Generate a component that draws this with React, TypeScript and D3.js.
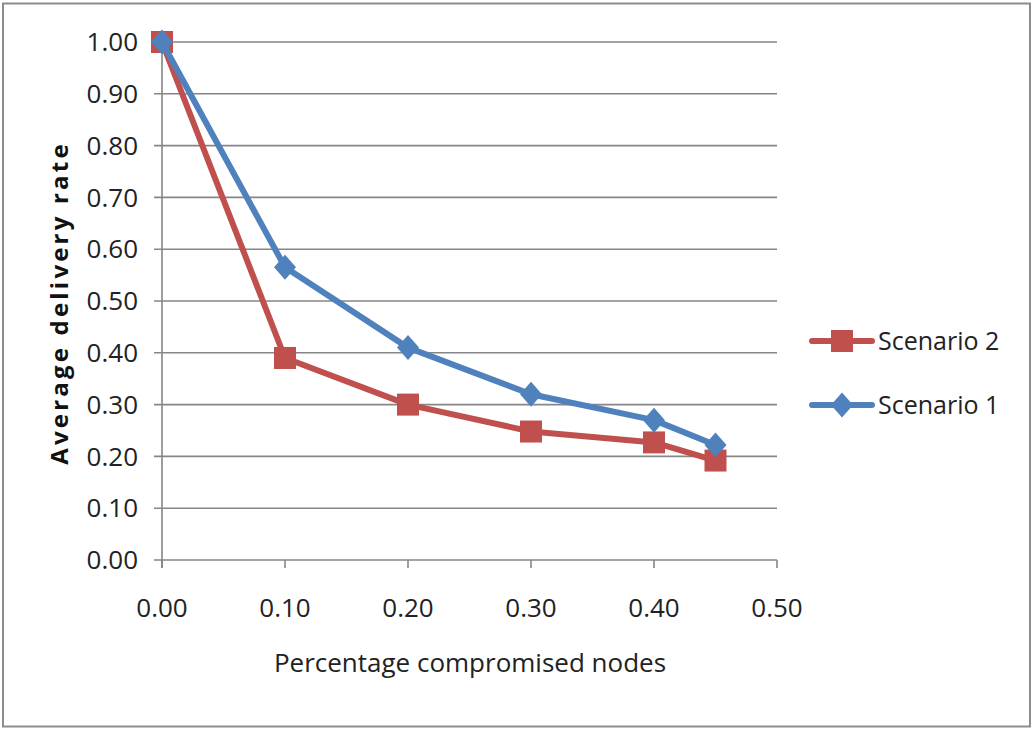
import React from "react";
import * as d3 from "d3";

const xValues = [0, 0.1, 0.2, 0.3, 0.4, 0.45];
const scenario2 = [1.0, 0.39, 0.3, 0.248, 0.227, 0.192];
const scenario1 = [1.0, 0.565, 0.41, 0.32, 0.27, 0.222];
const yTicks = [0, 0.1, 0.2, 0.3, 0.4, 0.5, 0.6, 0.7, 0.8, 0.9, 1.0];
const xTicks = [0, 0.1, 0.2, 0.3, 0.4, 0.5];

const RED = "#C0504D";
const BLUE = "#4F81BD";
const GRID = "#868686";
const FONT = "'Open Sans', sans-serif";

export default function App() {
  const W = 1032, H = 729;
  const x = d3.scaleLinear().domain([0, 0.5]).range([162, 777]);
  const y = d3.scaleLinear().domain([0, 1]).range([560, 42]);
  const line = d3.line<number>().x((_, i) => x(xValues[i])).y((v) => y(v));
  const sq = 22;
  const diamond = (cx: number, cy: number, r = 12.5) =>
    `M${cx},${cy - r}L${cx + r * 0.88},${cy}L${cx},${cy + r}L${cx - r * 0.88},${cy}Z`;

  return (
    <svg width={W} height={H} style={{ position: "absolute", left: 0, top: 0, background: "#fff" }}>
      <rect x={3} y={3.5} width={1027} height={723} fill="#fff" stroke="#8c8c8c" strokeWidth={2} />
      {yTicks.map((t) => (
        <g key={"y" + t}>
          <line x1={x(0) - 8} x2={x(0.5)} y1={y(t)} y2={y(t)} stroke={GRID} strokeWidth={1.6} />
          <text x={138} y={y(t)} dy="0.35em" textAnchor="end" fontFamily={FONT} fontSize={26} fill="#222">
            {t.toFixed(2)}
          </text>
        </g>
      ))}
      <line x1={x(0)} x2={x(0)} y1={y(1)} y2={y(0) + 8} stroke={GRID} strokeWidth={1.6} />
      {xTicks.map((t) => (
        <g key={"x" + t}>
          <line x1={x(t)} x2={x(t)} y1={y(0)} y2={y(0) + 8} stroke={GRID} strokeWidth={1.6} />
          <text x={x(t)} y={608} dy="0.35em" textAnchor="middle" fontFamily={FONT} fontSize={26} fill="#222">
            {t.toFixed(2)}
          </text>
        </g>
      ))}
      <text x={470} y={663} dy="0.35em" textAnchor="middle" fontFamily={FONT} fontSize={26} fill="#222">
        Percentage compromised nodes
      </text>
      <text
        transform={`translate(60,303) rotate(-90)`}
        dy="0.35em"
        textAnchor="middle"
        fontFamily={FONT}
        fontSize={24}
        fontWeight="bold"
        letterSpacing={3.2}
        fill="#111"
      >
        Average delivery rate
      </text>

      <path d={line(scenario2) || ""} fill="none" stroke={RED} strokeWidth={6} strokeLinejoin="round" />
      {scenario2.map((v, i) => (
        <rect key={"s2" + i} x={x(xValues[i]) - sq / 2} y={y(v) - sq / 2} width={sq} height={sq} fill={RED} />
      ))}
      <path d={line(scenario1) || ""} fill="none" stroke={BLUE} strokeWidth={6} strokeLinejoin="round" />
      {scenario1.map((v, i) => (
        <path key={"s1" + i} d={diamond(x(xValues[i]), y(v))} fill={BLUE} />
      ))}

      <g>
        <line x1={812} x2={872} y1={341} y2={341} stroke={RED} strokeWidth={6} strokeLinecap="round" />
        <rect x={842 - sq / 2} y={341 - sq / 2} width={sq} height={sq} fill={RED} />
        <text x={878} y={341} dy="0.35em" fontFamily={FONT} fontSize={25} fill="#222">Scenario 2</text>
        <line x1={812} x2={872} y1={405} y2={405} stroke={BLUE} strokeWidth={6} strokeLinecap="round" />
        <path d={diamond(842, 405)} fill={BLUE} />
        <text x={878} y={405} dy="0.35em" fontFamily={FONT} fontSize={25} fill="#222">Scenario 1</text>
      </g>
    </svg>
  );
}
